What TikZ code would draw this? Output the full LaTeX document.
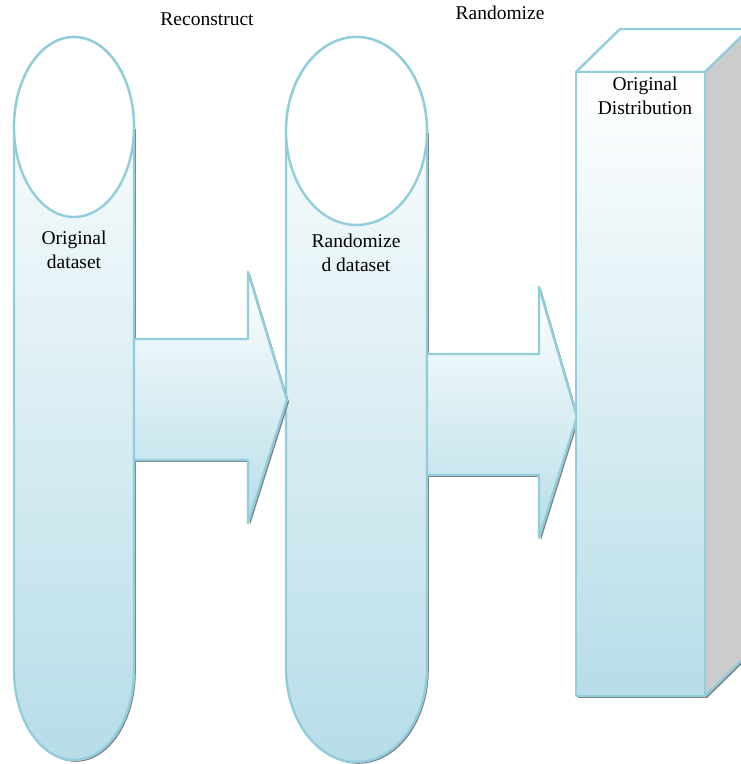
\documentclass[tikz,border=0pt]{standalone}
\usepackage{fontspec}
\setmainfont{Liberation Serif}
\definecolor{edgeblue}{RGB}{146,205,220}
\definecolor{fillbot}{RGB}{183,221,232}
\definecolor{sidegray}{RGB}{204,204,204}
\tikzset{
  shapeline/.style={draw=edgeblue,line width=2.4pt,line join=round},
  grad/.style={shapeline,top color=white,bottom color=fillbot},
  shadowfill/.style={fill=black!50},
  lbl/.style={font=\fontsize{19.5}{24}\selectfont,align=center,inner sep=0pt},
}
\begin{document}
\begin{tikzpicture}[x=1pt,y=1pt]
\useasboundingbox (0,0) rectangle (740,764);
% ---------- cylinder 1 ----------
\fill[shadowfill,shift={(1.8,-1.8)}] (14,637) -- (14,94) arc[start angle=180,end angle=360,x radius=60,y radius=90] -- (134,637) -- cycle;
\path[grad] (14,637) -- (14,94) arc[start angle=180,end angle=360,x radius=60,y radius=90] -- (134,637) arc[start angle=0,end angle=180,x radius=60,y radius=90] -- cycle;
\path[shapeline,fill=white] (74,637) ellipse[x radius=60,y radius=90];
% ---------- cylinder 2 ----------
\fill[shadowfill,shift={(1.8,-1.8)}] (286,633) -- (286,96) arc[start angle=180,end angle=360,x radius=70.5,y radius=94] -- (427,633) -- cycle;
\path[grad] (286,633) -- (286,96) arc[start angle=180,end angle=360,x radius=70.5,y radius=94] -- (427,633) arc[start angle=0,end angle=180,x radius=70.5,y radius=94] -- cycle;
\path[shapeline,fill=white] (356.5,633) ellipse[x radius=70.5,y radius=94];
% ---------- arrow 1 ----------
\fill[shadowfill,shift={(2,-2)}] (134,425) -- (248,425) -- (248,492) -- (287,364) -- (248,241) -- (248,304) -- (134,304) -- cycle;
\path[grad] (134,425) -- (248,425) -- (248,492) -- (287,364) -- (248,241) -- (248,304) -- (134,304) -- cycle;
% ---------- arrow 2 ----------
\fill[shadowfill,shift={(2,-2)}] (427,410) -- (539,410) -- (539,477) -- (577,347) -- (539,226) -- (539,289) -- (427,289) -- cycle;
\path[grad] (427,410) -- (539,410) -- (539,477) -- (577,347) -- (539,226) -- (539,289) -- (427,289) -- cycle;
% ---------- box ----------
\fill[shadowfill,shift={(2,-2)}] (576,692) -- (705,692) -- (749,735) -- (749,111) -- (705,68) -- (576,68) -- cycle;
\path[shapeline,fill=sidegray] (705,692) -- (749,735) -- (749,111) -- (705,68) -- cycle;
\path[shapeline,fill=white] (576,692) -- (620,735) -- (749,735) -- (705,692) -- cycle;
\path[grad] (576,68) rectangle (705,692);
% ---------- labels ----------
\node[lbl] (t1) at (207,745) {Reconstruct};
\node[lbl] (t2) at (500,751) {Randomize};
\node[lbl] (c1) at (74,514) {Original\\dataset};
\node[lbl] (c2) at (356,511) {Randomize\\d dataset};
\node[lbl] (c3) at (645,668) {Original\\Distribution};
\end{tikzpicture}
\end{document}
